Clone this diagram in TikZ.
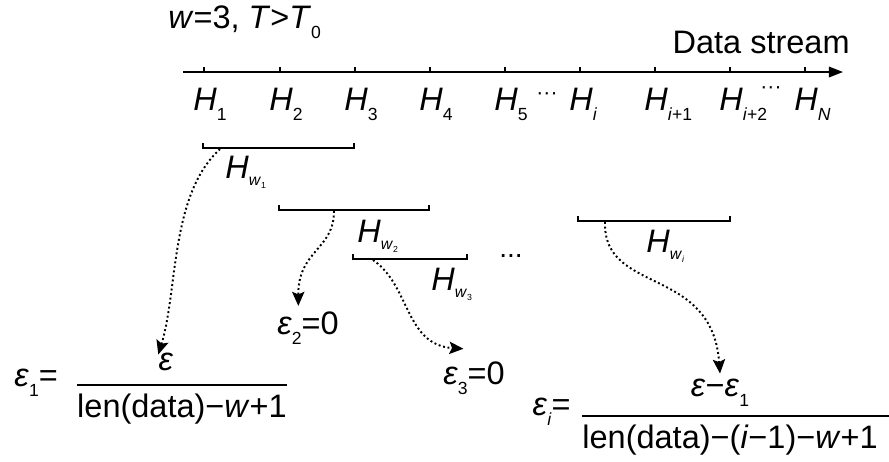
\documentclass[tikz,border=0pt]{standalone}
\usepackage{fontspec}
\setmainfont{Liberation Sans}
\usetikzlibrary{arrows.meta,positioning}

\newcommand{\lowsub}[1]{\raisebox{-0.6ex}{\fontsize{10}{10}\selectfont #1}}
\newcommand{\winsub}[1]{\raisebox{-4.5pt}{\fontsize{9}{9}\selectfont\textit{w}\raisebox{-1.2pt}{\fontsize{5}{5}\selectfont #1}}}

\tikzset{
	lbl/.style={font=\fontsize{18.5}{21}\selectfont, inner sep=0pt}
}
\tikzset{
	winbar/.style={line width=1.1pt}
}
\tikzset{
	dotarrow/.style={line width=1.1pt, dash pattern=on 1.1pt off 1.5pt,
			-{Stealth[length=8pt,width=7pt,inset=1.5pt]}}
}

\begin{document}
\begin{tikzpicture}[x=0.02cm, y=-0.02cm]

	\useasboundingbox (0,0) rectangle (889,461);

	% header
	\node[lbl, anchor=west] (cond) at (168,22) {\textit{w}=3, \textit{T}>\textit{T}\lowsub{0}};
	\node[lbl, anchor=east] (stream) at (850,42) {Data stream};

	% time axis
	\begin{scope}
		\coordinate (ax0) at (183,72);
		\coordinate (ax1) at (843,72);
		\draw[line width=0.9pt, -{Triangle[length=8pt,width=6pt]}] (ax0) -- (ax1);

		\foreach \x/\s [count=\k] in {204/1, 280/2, 355/3, 430/4, 505/5,
				580/{\textit{i}}, 655/{\textit{i}+1}, 730/{\textit{i}+2}, 805/{\textit{N}}} {
				\coordinate (t\k) at (\x,72);
				\draw[line width=0.9pt] (t\k) -- ++(0,-5);
				\node[lbl, anchor=base west] (h\k) at (\x-11,110) {\textit{H}\lowsub{\s}};
			}

		\node[lbl, font=\fontsize{12}{12}\selectfont] (dotsA) at (547,96) {···};
		\node[lbl, font=\fontsize{12}{12}\selectfont] (dotsB) at (771,90) {···};
	\end{scope}

	% windows
	\begin{scope}
		\coordinate (w1a) at (203,148);
		\coordinate (w1b) at (354,148);
		\coordinate (w2a) at (279,210);
		\coordinate (w2b) at (429,210);
		\coordinate (w3a) at (353,259);
		\coordinate (w3b) at (467,259);
		\coordinate (wia) at (578,221);
		\coordinate (wib) at (730,221);

		\draw[winbar] (w1a) ++(0,-5) -- (w1a) -- (w1b) -- ++(0,-5);
		\draw[winbar] (w2a) ++(0,-5) -- (w2a) -- (w2b) -- ++(0,-5);
		\draw[winbar] (w3a) ++(0,-5) -- (w3a) -- (w3b) -- ++(0,-5);
		\draw[winbar] (wia) ++(0,-5) -- (wia) -- (wib) -- ++(0,-5);

		\node[lbl, anchor=base west] (hw1) at (225,178) {\textit{H}\winsub{1}};
		\node[lbl, anchor=base west] (hw2) at (357,242) {\textit{H}\winsub{2}};
		\node[lbl, anchor=base west] (hw3) at (431,290) {\textit{H}\winsub{3}};
		\node[lbl, anchor=base west] (hwi) at (646,252) {\textit{H}\winsub{\textit{i}}};
		\node[lbl, font=\fontsize{16}{16}\selectfont] (dotsW) at (511,256) {...};

		\coordinate (s1) at (220,149);
		\coordinate (s2) at (334,211);
		\coordinate (s3) at (373,260);
		\coordinate (si) at (605,222);
	\end{scope}

	% errors
	\node[lbl, anchor=west] (e1) at (14,383) {\textit{ε}\lowsub{1}=};
	\node[lbl] (num1) at (166,362) {\textit{ε}};
	\node[lbl] (den1) at (182,409) {len(data)−\textit{w}+1};
	\draw[line width=1.1pt] ([yshift=5pt]den1.north west) -- ([yshift=5pt]den1.north east);

	\node[lbl] (e2) at (308,328) {\textit{ε}\lowsub{2}=0};
	\node[lbl] (e3) at (474,378) {\textit{ε}\lowsub{3}=0};

	\node[lbl, anchor=east] (ei) at (571,412) {\textit{ε}\lowsub{\textit{i}}=};
	\node[lbl] (numi) at (720,393) {\textit{ε}−\textit{ε}\lowsub{1}};
	\node[lbl] (deni) at (730,440) {len(data)−(\textit{i}−1)−\textit{w}+1};
	\draw[line width=1.1pt] ([yshift=5pt]deni.north west) -- ([xshift=10pt,yshift=5pt]deni.north east);

	% dotted links
	\draw[dotarrow] (s1) .. controls (170,195) and (178,290) .. ([yshift=-1pt]num1.north west);
	\draw[dotarrow] (s2) .. controls (334,250) and (298,250) .. ([xshift=-5.5pt,yshift=3pt]e2.north);
	\draw[dotarrow] (s3) .. controls (410,285) and (405,345) .. ([xshift=-6pt,yshift=7pt]e3.north);
	\draw[dotarrow] (si) .. controls (603,295) and (712,265) .. ([yshift=3pt]numi.north);

\end{tikzpicture}
\end{document}
